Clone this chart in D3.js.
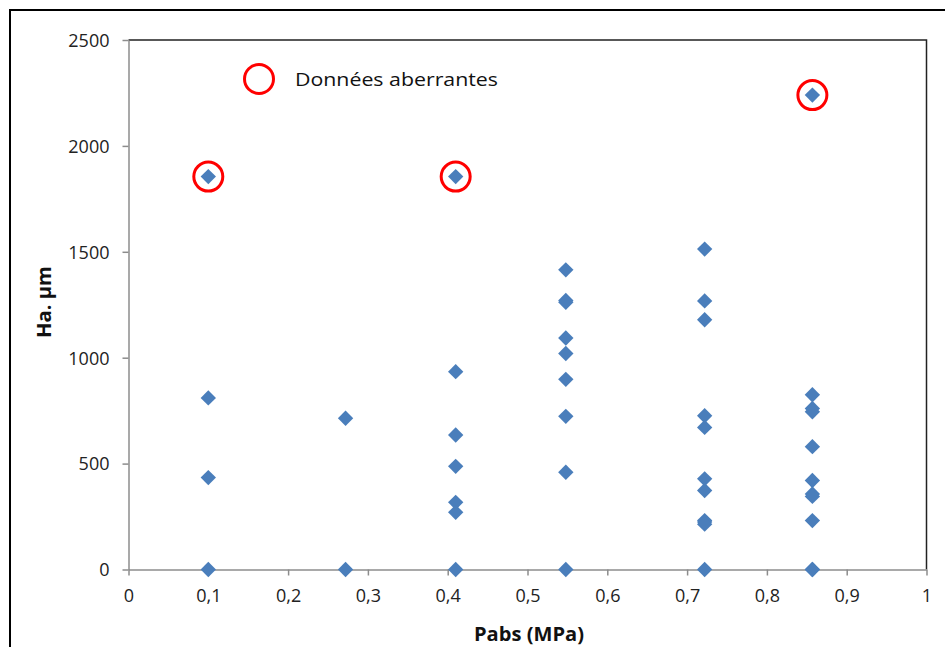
<!DOCTYPE html>
<html><head><meta charset="utf-8">
<script src="https://cdn.jsdelivr.net/npm/d3@7"></script>
<style>body{margin:0;background:#fff}svg{display:block}text{font-family:"Open Sans","Liberation Sans",sans-serif}</style>
</head><body><svg id="c" width="945" height="647"></svg>
<script>
// Data: pressure groups (MPa) and measured Ha (µm)
const pabs = [0.1,0.1,0.1,0.1,
  0.272,0.272,
  0.41,0.41,0.41,0.41,0.41,0.41,0.41,
  0.548,0.548,0.548,0.548,0.548,0.548,0.548,0.548,0.548,
  0.722,0.722,0.722,0.722,0.722,0.722,0.722,0.722,0.722,0.722,0.722,
  0.857,0.857,0.857,0.857,0.857,0.857,0.857,0.857,0.857,0.857,0.857];
const ha = [1855,810,434,0,
  714,0,
  1855,934,635,487,317,270,0,
  1415,1270,1262,1093,1020,898,723,459,0,
  1513,1268,1179,726,671,428,373,231,224,214,0,
  2240,825,760,745,580,420,357,345,231,0,0];
// Outliers (données aberrantes)
const outlierX = [0.1, 0.41, 0.857];
const outlierY = [1855, 1855, 2240];
const xTicks = [0,0.1,0.2,0.3,0.4,0.5,0.6,0.7,0.8,0.9,1];
const yTicks = [0,500,1000,1500,2000,2500];
const legendLabel = "Données aberrantes";
const xTitle = "Pabs (MPa)";
const yTitle = "Ha. µm";

const svg = d3.select("#c");
const L=128.5, R=926.5, T=40, B=569.5;
const x = d3.scaleLinear().domain([0,1]).range([L,R]);
const y = d3.scaleLinear().domain([0,2500]).range([B,T]);

// outer frame
svg.append("path").attr("d","M10,647 V10 H945").attr("fill","none").attr("stroke","#000").attr("stroke-width",2);
// plot area border top/right
svg.append("path").attr("d",`M${L},${T} H${R} V${B}`).attr("fill","none").attr("stroke","#222").attr("stroke-width",1.5);

const fmt = d => String(d).replace(".",",");
const xa = svg.append("g").attr("transform",`translate(0,${B})`)
  .call(d3.axisBottom(x).tickValues(xTicks).tickFormat(fmt).tickSize(6).tickSizeOuter(0).tickPadding(14));
const ya = svg.append("g").attr("transform",`translate(${L},0)`)
  .call(d3.axisLeft(y).tickValues(yTicks).tickFormat(d3.format("d")).tickSize(6).tickSizeOuter(0).tickPadding(13));
[xa,ya].forEach(a=>{
  a.select(".domain").attr("stroke","#8c8c8c").attr("stroke-width",1.5);
  a.selectAll(".tick line").attr("stroke","#8c8c8c").attr("stroke-width",1.5);
  a.selectAll("text").attr("font-size",18).attr("fill","#222");
});
xa.selectAll("text").attr("dy","0.71em");
ya.selectAll("text").attr("dy","0.35em");

// points
const diamond = d3.symbol().type(d3.symbolDiamond2).size(150);
svg.append("g").selectAll("path").data(pabs.map((p,i)=>[p,ha[i]])).join("path")
  .attr("d",diamond).attr("transform",d=>`translate(${x(d[0])},${y(d[1])})`)
  .attr("fill","#4a7ebb");

// outlier circles
svg.append("g").selectAll("circle").data(outlierX.map((p,i)=>[p,outlierY[i]])).join("circle")
  .attr("cx",d=>x(d[0])).attr("cy",d=>y(d[1])).attr("r",14.5)
  .attr("fill","none").attr("stroke","#f00").attr("stroke-width",3);

// legend
svg.append("circle").attr("cx",259).attr("cy",79).attr("r",14.5).attr("fill","none").attr("stroke","#f00").attr("stroke-width",3);
svg.append("text").attr("x",295).attr("y",86).attr("font-size",18).attr("fill","#111")
  .attr("textLength",203).attr("lengthAdjust","spacingAndGlyphs").text(legendLabel);

// titles
svg.append("text").attr("x",529).attr("y",641).attr("text-anchor","middle")
  .attr("font-size",19).attr("font-weight","bold").attr("fill","#111")
  .attr("textLength",110).attr("lengthAdjust","spacingAndGlyphs").text(xTitle);
svg.append("text").attr("transform","translate(51,302) rotate(-90)").attr("text-anchor","middle")
  .attr("font-size",19).attr("font-weight","bold").attr("fill","#111")
  .attr("textLength",72).attr("lengthAdjust","spacingAndGlyphs").text(yTitle);
</script></body></html>
